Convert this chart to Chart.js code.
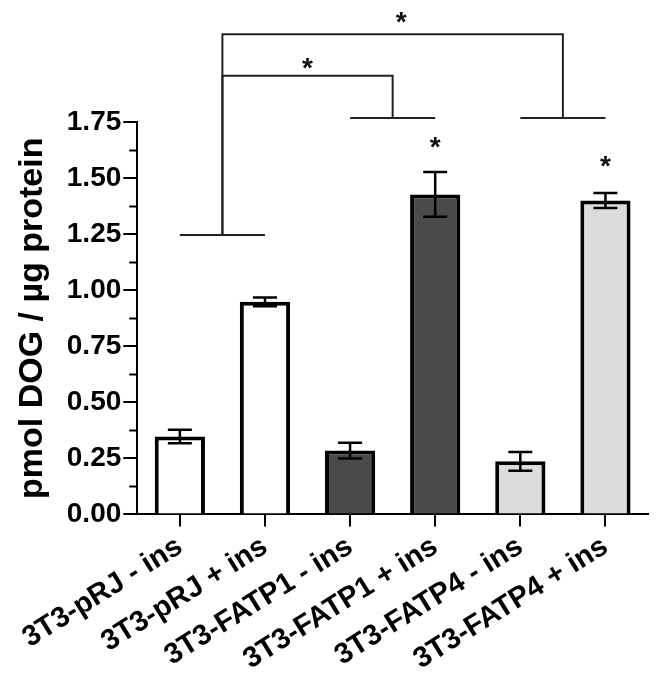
<!DOCTYPE html>
<html>
<head>
<meta charset="utf-8">
<script src="https://cdn.jsdelivr.net/npm/chart.js@4"></script>
<style>
  html, body { margin: 0; padding: 0; background: #fff; }
  #wrap { width: 658px; height: 680px; }
</style>
</head>
<body>
<div id="wrap"><canvas id="chart" width="658" height="680"></canvas></div>
<script>
// data
const labels = ['3T3-pRJ - ins', '3T3-pRJ + ins', '3T3-FATP1 - ins', '3T3-FATP1 + ins', '3T3-FATP4 - ins', '3T3-FATP4 + ins'];
const values = [0.348, 0.948, 0.285, 1.427, 0.237, 1.40];
const errors = [0.030, 0.019, 0.035, 0.100, 0.042, 0.033];
const fills = ['#ffffff', '#ffffff', '#4a4a4a', '#4a4a4a', '#dcdcdc', '#dcdcdc'];
const yTicks = [0, 0.25, 0.5, 0.75, 1.0, 1.25, 1.5, 1.75];

// significance marks, in category index / value units
const groupLines = [[0, 1, 1.246], [2, 3, 1.768], [4, 5, 1.768]];
const links = [[0.5, 2.5, 1.956], [0.5, 4.5, 2.141]];
const stars = [[1.5, 2.02], [2.6, 2.225], [3, 1.67], [5, 1.585]];

const FONT = '"Liberation Sans", Arial, sans-serif';

// error bars, minor ticks and significance brackets
const overlay = {
  id: 'overlay',
  afterDatasetsDraw(chart) {
    const ctx = chart.ctx;
    const xs = chart.scales.x;
    const ys = chart.scales.y;
    const meta = chart.getDatasetMeta(0);
    ctx.save();

    // minor ticks on y axis
    ctx.strokeStyle = '#000';
    ctx.lineWidth = 2;
    const left = chart.chartArea.left;
    for (let i = 0; i < yTicks.length - 1; i++) {
      const py = Math.round(ys.getPixelForValue((yTicks[i] + yTicks[i + 1]) / 2)) + 0.5;
      ctx.beginPath();
      ctx.moveTo(left - 8, py);
      ctx.lineTo(left, py);
      ctx.stroke();
    }

    // error bars
    ctx.lineWidth = 2.5;
    meta.data.forEach((bar, i) => {
      const hi = ys.getPixelForValue(values[i] + errors[i]);
      const lo = ys.getPixelForValue(values[i] - errors[i]);
      ctx.beginPath();
      ctx.moveTo(bar.x, hi);
      ctx.lineTo(bar.x, lo);
      ctx.moveTo(bar.x - 12, hi);
      ctx.lineTo(bar.x + 12, hi);
      ctx.moveTo(bar.x - 12, lo);
      ctx.lineTo(bar.x + 12, lo);
      ctx.stroke();
    });

    // brackets
    ctx.strokeStyle = '#222';
    ctx.lineWidth = 2;
    groupLines.forEach(g => {
      const py = ys.getPixelForValue(g[2]);
      ctx.beginPath();
      ctx.moveTo(xs.getPixelForValue(g[0]), py);
      ctx.lineTo(xs.getPixelForValue(g[1]), py);
      ctx.stroke();
    });
    links.forEach(l => {
      const x1 = xs.getPixelForValue(l[0]);
      const x2 = xs.getPixelForValue(l[1]);
      const py = ys.getPixelForValue(l[2]);
      // each end drops to the group line below it
      const drop = v => {
        const g = groupLines.find(g => (g[0] + g[1]) / 2 === v);
        return ys.getPixelForValue(g[2]);
      };
      ctx.beginPath();
      ctx.moveTo(x1, drop(l[0]));
      ctx.lineTo(x1, py);
      ctx.lineTo(x2, py);
      ctx.lineTo(x2, drop(l[1]));
      ctx.stroke();
    });

    // stars
    ctx.fillStyle = '#111';
    ctx.font = 'bold 28px ' + FONT;
    ctx.textAlign = 'center';
    ctx.textBaseline = 'alphabetic';
    stars.forEach(s => {
      ctx.fillText('*', xs.getPixelForValue(s[0]), ys.getPixelForValue(s[1]) + 16);
    });

    ctx.restore();
  }
};

new Chart(document.getElementById('chart'), {
  type: 'bar',
  data: {
    labels: labels,
    datasets: [{
      data: values,
      backgroundColor: fills,
      borderColor: '#000',
      borderWidth: 4,
      barPercentage: 0.59,
      categoryPercentage: 1.0
    }]
  },
  options: {
    responsive: false,
    animation: false,
    layout: { padding: { left: 12, top: 122, right: 10, bottom: 0 } },
    plugins: {
      legend: { display: false },
      tooltip: { enabled: false }
    },
    scales: {
      x: {
        offset: true,
        grid: { display: true, offset: false, drawOnChartArea: false, drawTicks: true, tickLength: 12, color: '#000', lineWidth: 2 },
        border: { display: true, color: '#000', width: 2 },
        ticks: {
          color: '#000',
          font: { family: FONT, size: 29, weight: 'bold' },
          minRotation: 32,
          maxRotation: 32,
          padding: 3,
          autoSkip: false
        }
      },
      y: {
        min: 0,
        max: 1.75,
        grid: { display: true, drawOnChartArea: false, drawTicks: true, tickLength: 14, color: '#000', lineWidth: 2 },
        border: { display: true, color: '#000', width: 2 },
        ticks: {
          stepSize: 0.25,
          color: '#000',
          padding: 2,
          font: { family: FONT, size: 28, weight: 'bold' },
          callback: v => v.toFixed(2)
        },
        title: {
          display: true,
          text: 'pmol DOG / µg protein',
          color: '#000',
          font: { family: FONT, size: 34, weight: 'bold' },
          padding: { top: 0, bottom: 12 }
        }
      }
    }
  },
  plugins: [overlay]
});
</script>
</body>
</html>
